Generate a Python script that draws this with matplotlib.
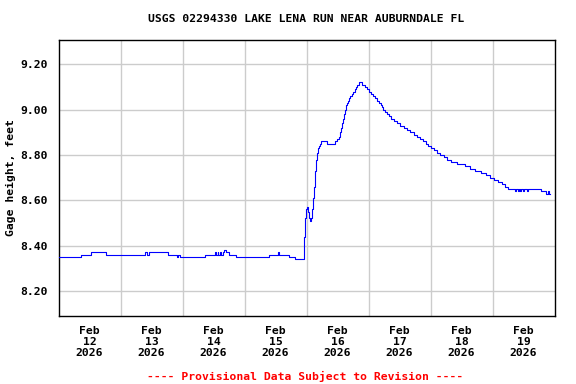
import matplotlib
matplotlib.use("Agg")
import matplotlib.pyplot as plt
import matplotlib.dates as mdates
import pandas as pd
import numpy as np

# ---- data (hours since 2026-02-12 00:00, gage height in feet) ----
base_hours = [0, 8.7, 12.6, 18.4, 33.5, 34.1, 35.0, 42.4, 45.8, 46.4, 47.0, 56.8,
              60.7, 61.0, 61.6, 61.9, 62.5, 62.8, 63.6, 64.2, 64.8, 66.1, 68.7,
              81.6, 84.9, 85.2, 89.3, 91.5]
base_vals = [8.35, 8.36, 8.37, 8.36, 8.37, 8.36, 8.37, 8.36, 8.35, 8.36, 8.35, 8.36,
             8.37, 8.36, 8.37, 8.36, 8.37, 8.36, 8.37, 8.38, 8.37, 8.36, 8.35,
             8.36, 8.37, 8.36, 8.35, 8.34]

rise_hours = [95.0, 95.4, 95.8, 96.2, 96.6, 97.0, 97.4, 97.7, 98.1, 98.5,
              98.9, 99.3, 99.7, 100.1, 100.5, 100.8, 101.2, 101.6, 104.1, 107.0,
              107.8, 108.4, 109.0, 109.4, 109.8, 110.1, 110.5, 110.9, 111.3, 111.7,
              112.1, 112.5, 112.8, 113.6, 114.0, 114.8, 115.2, 115.7, 116.3]
rise_vals = [8.44, 8.52, 8.56, 8.57, 8.55, 8.52, 8.51, 8.52, 8.56, 8.61,
             8.66, 8.73, 8.78, 8.81, 8.83, 8.84, 8.85, 8.86, 8.85, 8.86,
             8.87, 8.88, 8.90, 8.92, 8.94, 8.96, 8.98, 9.00, 9.02, 9.03,
             9.04, 9.05, 9.06, 9.07, 9.08, 9.09, 9.10, 9.11, 9.12]

recess_hours = [117.5, 118.6, 119.4, 120.2, 121.0, 121.7, 122.5, 123.3, 124.1, 124.8,
                125.2, 125.6, 126.4, 127.2, 127.9, 128.7, 129.9, 131.0, 132.2, 133.7,
                134.9, 136.1, 137.6, 138.8, 139.9, 141.1, 142.3, 143.0, 144.2, 145.4,
                146.5, 147.7, 149.2, 150.4, 151.9, 154.3, 157.4, 159.3, 161.2, 163.5,
                165.5, 167.0, 168.6, 170.1, 171.7, 172.9, 174.1]
recess_vals = [9.11, 9.10, 9.09, 9.08, 9.07, 9.06, 9.05, 9.04, 9.03, 9.02,
               9.01, 9.00, 8.99, 8.98, 8.97, 8.96, 8.95, 8.94, 8.93, 8.92,
               8.91, 8.90, 8.89, 8.88, 8.87, 8.86, 8.85, 8.84, 8.83, 8.82,
               8.81, 8.80, 8.79, 8.78, 8.77, 8.76, 8.75, 8.74, 8.73, 8.72,
               8.71, 8.70, 8.69, 8.68, 8.67, 8.66, 8.65]

tail_hours = [176.7, 177.1, 177.9, 178.3, 178.8, 179.2, 179.8, 180.2, 181.4, 181.8,
              186.8, 188.7, 189.5, 189.9, 190.2]
tail_vals = [8.64, 8.65, 8.64, 8.65, 8.64, 8.65, 8.64, 8.65, 8.64, 8.65,
             8.64, 8.63, 8.64, 8.63, 8.63]

y_ticks = [8.20, 8.40, 8.60, 8.80, 9.00, 9.20]
day_labels = ["Feb\n12\n2026", "Feb\n13\n2026", "Feb\n14\n2026", "Feb\n15\n2026",
              "Feb\n16\n2026", "Feb\n17\n2026", "Feb\n18\n2026", "Feb\n19\n2026"]

title = "USGS 02294330 LAKE LENA RUN NEAR AUBURNDALE FL"
ylabel = "Gage height, feet"
footer = "---- Provisional Data Subject to Revision ----"

# ---- build ----
start = pd.Timestamp("2026-02-12 00:00")
hours = np.array(base_hours + rise_hours + recess_hours + tail_hours)
vals = np.array(base_vals + rise_vals + recess_vals + tail_vals)
times = start + pd.to_timedelta(hours, unit="h")

font = "DejaVu Sans Mono"
fs = 8.2

fig = plt.figure(figsize=(5.76, 3.84), dpi=100)
ax = fig.add_axes([58.5 / 576, 1 - 316 / 384, 496 / 576, (316 - 39.5) / 384])

ax.plot(times, vals, drawstyle="steps-post", color="#0000FF", lw=0.8, zorder=3)

ax.set_xlim(start, start + pd.Timedelta(days=8))
ax.set_ylim(8.0896, 9.3095)

# major ticks at noon (labels), minor at midnight (grid)
noon = [start + pd.Timedelta(hours=12 + 24 * i) for i in range(8)]
mid = [start + pd.Timedelta(days=i) for i in range(1, 8)]
ax.set_xticks(noon)
ax.set_xticklabels(day_labels, fontfamily=font, fontweight="bold", fontsize=fs,
                   linespacing=1.12)
ax.set_xticks(mid, minor=True)
ax.tick_params(axis="x", which="both", length=0, pad=7)
ax.grid(True, axis="x", which="minor", color="#CCCCCC", lw=1.0, zorder=0)

ax.set_yticks(y_ticks)
ax.set_yticklabels([f"{v:.2f}" for v in y_ticks], fontfamily=font,
                   fontweight="bold", fontsize=fs)
ax.tick_params(axis="y", length=0, pad=8)
ax.grid(True, axis="y", which="major", color="#CCCCCC", lw=1.0, zorder=0)

for s in ax.spines.values():
    s.set_color("black")
    s.set_linewidth(1.0)

ax.set_ylabel(ylabel, fontfamily=font, fontweight="bold", fontsize=fs)
ax.yaxis.set_label_coords(-(58.5 - 16) / 496, 0.5)

fig.text(306.5 / 576, 1 - 19 / 384, title, ha="center", va="center",
         fontfamily=font, fontweight="bold", fontsize=fs)
fig.text(305 / 576, 1 - 376 / 384, footer, ha="center", va="center",
         fontfamily=font, fontweight="bold", fontsize=fs, color="#FF0000")

fig.savefig("out.png", dpi=100)
